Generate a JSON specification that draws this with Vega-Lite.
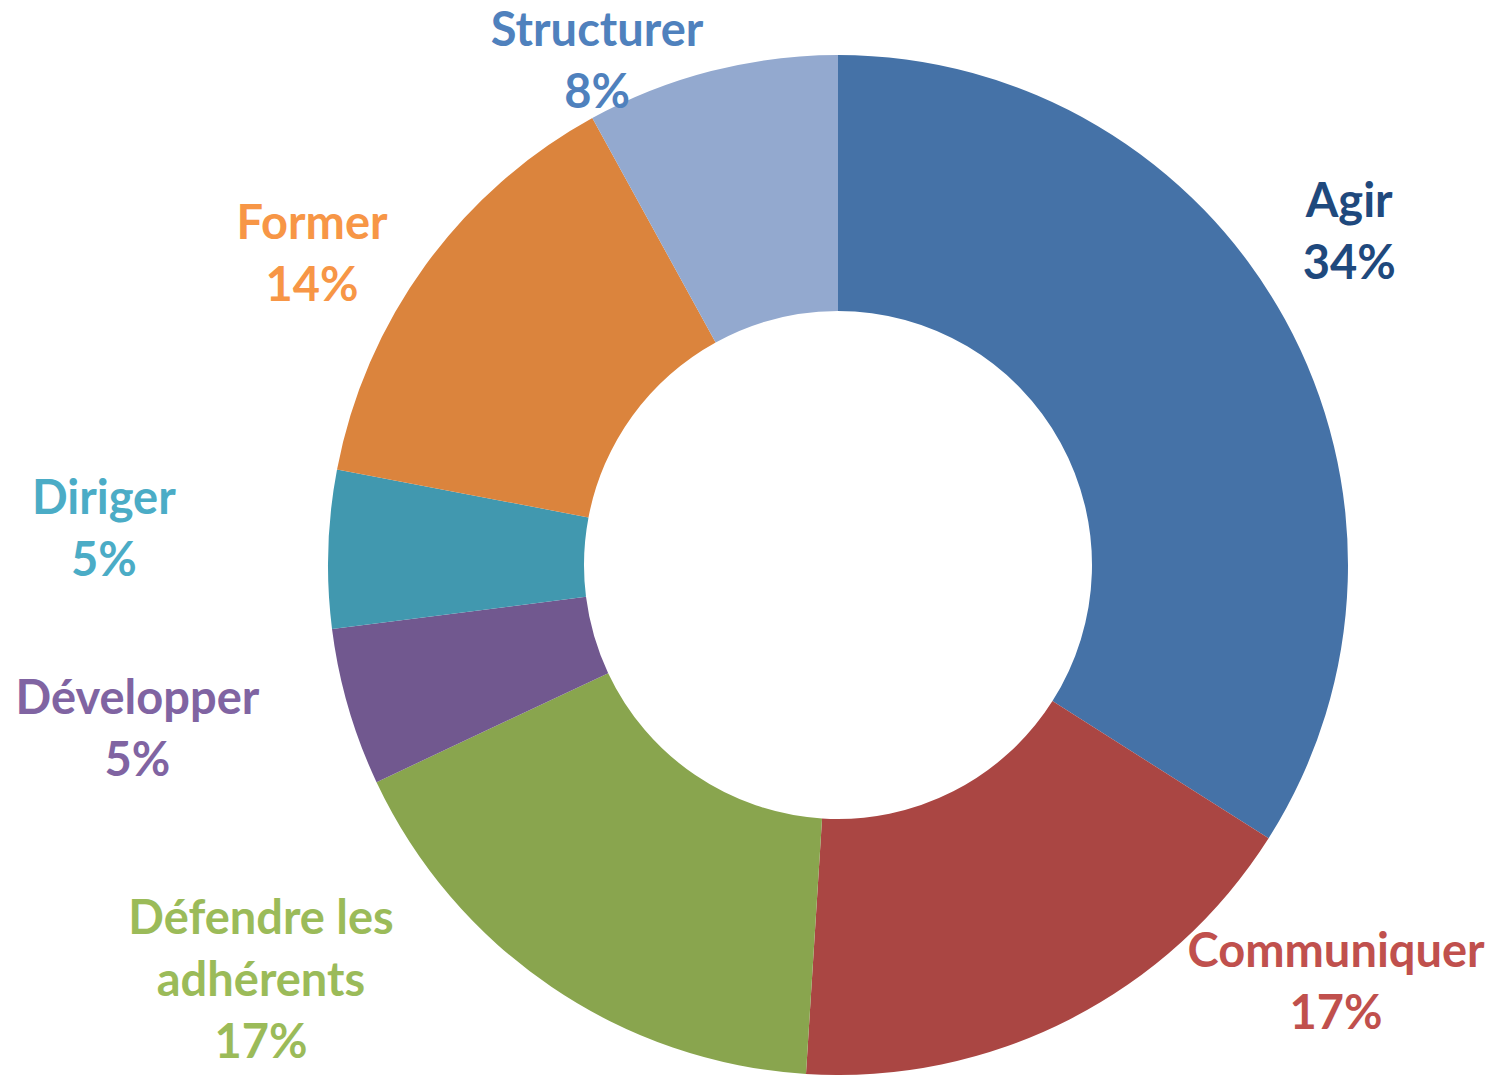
{
  "$schema": "https://vega.github.io/schema/vega-lite/v6.json",
  "width": 1314,
  "height": 1130,
  "padding": {"left": 181, "top": 0, "right": 0, "bottom": -55},
  "autosize": {"type": "none"},
  "background": "white",
  "view": {"stroke": null},
  "config": {"text": {"font": "Lato", "fontWeight": "bold", "fontSize": 47, "lineHeight": 62, "align": "center", "baseline": "middle"}},
  "data": {"values": [
    {"k": 1, "category": "Agir", "value": 34},
    {"k": 2, "category": "Communiquer", "value": 17},
    {"k": 3, "category": "Défendre les adhérents", "value": 17},
    {"k": 4, "category": "Développer", "value": 5},
    {"k": 5, "category": "Diriger", "value": 5},
    {"k": 6, "category": "Former", "value": 14},
    {"k": 7, "category": "Structurer", "value": 8}
  ]},
  "transform": [
    {"calculate": "replace(datum.category, 'les ', 'les\\n') + '\\n' + datum.value + '%'", "as": "lbl"}
  ],
  "encoding": {
    "theta": {"field": "value", "type": "quantitative", "stack": true},
    "order": {"field": "k", "type": "quantitative"},
    "detail": {"field": "category", "type": "nominal"}
  },
  "layer": [
    {
      "mark": {"type": "arc", "innerRadius": 254, "outerRadius": 510},
      "encoding": {
        "color": {
          "field": "category", "type": "nominal", "legend": null,
          "scale": {
            "domain": ["Agir", "Communiquer", "Défendre les adhérents", "Développer", "Diriger", "Former", "Structurer"],
            "range": ["#4572A7", "#AA4643", "#89A54E", "#71588F", "#4198AF", "#DB843D", "#93A9CF"]
          }
        }
      }
    },
    {
      "mark": {"type": "text", "radius": 609, "thetaOffset": -0.072, "dy": -31, "color": "#1F497D", "lineBreak": "\n"},
      "encoding": {"text": {"condition": {"test": "datum.category == 'Agir'", "field": "lbl"}, "value": ""}}
    },
    {
      "mark": {"type": "text", "radius": 651, "thetaOffset": -0.400, "dy": -31, "color": "#C0504D", "lineBreak": "\n"},
      "encoding": {"text": {"condition": {"test": "datum.category == 'Communiquer'", "field": "lbl"}, "value": ""}}
    },
    {
      "mark": {"type": "text", "radius": 712, "thetaOffset": 0.348, "dy": -62, "color": "#9BBB59", "lineBreak": "\n"},
      "encoding": {"text": {"condition": {"test": "datum.category == 'Défendre les adhérents'", "field": "lbl"}, "value": ""}}
    },
    {
      "mark": {"type": "text", "radius": 720, "thetaOffset": 0.050, "dy": -31, "color": "#8064A2", "lineBreak": "\n"},
      "encoding": {"text": {"condition": {"test": "datum.category == 'Développer'", "field": "lbl"}, "value": ""}}
    },
    {
      "mark": {"type": "text", "radius": 735, "thetaOffset": 0.015, "dy": -31, "color": "#4BACC6", "lineBreak": "\n"},
      "encoding": {"text": {"condition": {"test": "datum.category == 'Diriger'", "field": "lbl"}, "value": ""}}
    },
    {
      "mark": {"type": "text", "radius": 610, "thetaOffset": -0.097, "dy": -31, "color": "#F79646", "lineBreak": "\n"},
      "encoding": {"text": {"condition": {"test": "datum.category == 'Former'", "field": "lbl"}, "value": ""}}
    },
    {
      "mark": {"type": "text", "radius": 557, "thetaOffset": -0.196, "dy": -31, "color": "#4F81BD", "lineBreak": "\n"},
      "encoding": {"text": {"condition": {"test": "datum.category == 'Structurer'", "field": "lbl"}, "value": ""}}
    }
  ]
}
